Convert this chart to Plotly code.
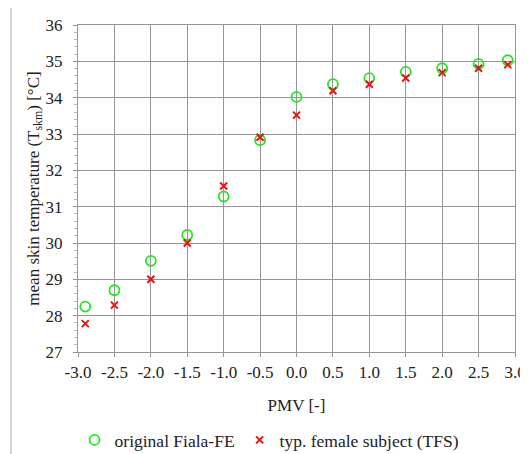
import plotly.graph_objects as go

pmv = [-2.9, -2.5, -2.0, -1.5, -1.0, -0.5, 0.0, 0.5, 1.0, 1.5, 2.0, 2.5, 2.9]
fiala_fe = [28.25, 28.70, 29.51, 30.22, 31.28, 32.83, 34.02, 34.37, 34.54, 34.71, 34.81, 34.93, 35.03]
tfs = [27.78, 28.29, 29.00, 30.00, 31.57, 32.91, 33.52, 34.19, 34.37, 34.54, 34.69, 34.81, 34.91]

x_ticks = [-3.0, -2.5, -2.0, -1.5, -1.0, -0.5, 0.0, 0.5, 1.0, 1.5, 2.0, 2.5, 3.0]
x_tick_labels = ["-3.0", "-2.5", "-2.0", "-1.5", "-1.0", "-0.5", "0.0", "0.5", "1.0", "1.5", "2.0", "2.5", "3.0"]
y_ticks = [27, 28, 29, 30, 31, 32, 33, 34, 35, 36]
y_tick_labels = ["27", "28", "29", "30", "31", "32", "33", "34", "35", "36"]

font_family = "Liberation Serif"
txt = "#222"
grid = "#959595"

fig = go.Figure()
fig.add_trace(go.Scatter(
    x=pmv, y=fiala_fe, mode="markers", name="original Fiala-FE",
    marker=dict(symbol="circle-open", size=10, color="#22e622", line=dict(width=1.8, color="#22e622")),
))
fig.add_trace(go.Scatter(
    x=pmv, y=tfs, mode="markers", name="typ. female subject (TFS)",
    marker=dict(symbol="x-thin", size=7, color="#ee1111", line=dict(width=2, color="#ee1111")),
))

# page body has an 8px margin, so the figure is drawn 8px smaller and offset
fig.update_layout(
    width=520, height=446,
    margin=dict(l=70, r=13, t=17, b=102),
    paper_bgcolor="white", plot_bgcolor="white",
    font=dict(family=font_family, size=17, color=txt),
    showlegend=True,
    legend=dict(orientation="h", xref="container", yref="container",
                x=0.503, xanchor="center", y=1 - 432 / 446, yanchor="middle",
                font=dict(family=font_family, size=17.5, color=txt),
                itemwidth=30, tracegroupgap=0, bgcolor="rgba(0,0,0,0)"),
    xaxis=dict(
        range=[-3.0, 3.0], tickmode="array", tickvals=x_ticks, ticktext=x_tick_labels,
        showgrid=True, gridcolor=grid, gridwidth=1.4,
        showline=True, linecolor=grid, linewidth=1.4, mirror=True,
        ticks="outside", ticklen=4, tickcolor=grid,
        zeroline=False, automargin=False,
        title=dict(text="PMV [-]", font=dict(family=font_family, size=17, color=txt), standoff=18),
        tickfont=dict(family=font_family, size=17, color=txt),
    ),
    yaxis=dict(
        range=[27, 36], tickmode="array", tickvals=y_ticks, ticktext=y_tick_labels,
        showgrid=True, gridcolor=grid, gridwidth=1.4,
        showline=True, linecolor=grid, linewidth=1.4, mirror=True,
        ticks="outside", ticklen=4, tickcolor=grid, ticklabelstandoff=7,
        minor=dict(dtick=0.2, tick0=27, ticks="outside", ticklen=3, tickcolor="#b8b8b8", showgrid=False),
        zeroline=False, automargin=False,
        title=dict(text="mean skin temperature (T<sub>skm</sub>) [°C]",
                   font=dict(family=font_family, size=17, color=txt), standoff=1),
        tickfont=dict(family=font_family, size=17, color=txt),
    ),
    shapes=[dict(type="line", xref="paper", yref="paper", x0=-0.1533, x1=-0.1533, y0=-0.312, y1=1.052,
                 line=dict(color="#c8c8c8", width=1.5))],
)

fig.write_html("out.html")
